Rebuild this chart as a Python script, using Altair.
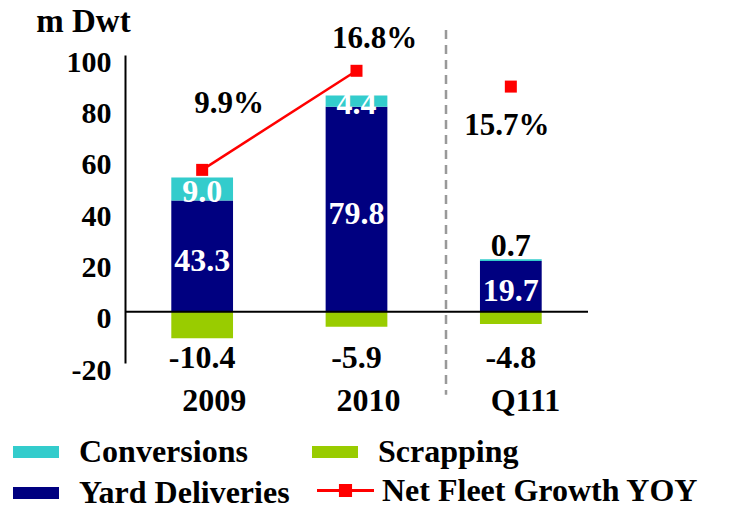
import altair as alt
import pandas as pd

# ---------------- data ----------------
categories = ["2009", "2010", "Q111"]
yard_deliveries = [43.3, 79.8, 19.7]
conversions = [9.0, 4.4, 0.7]
scrapping = [-10.4, -5.9, -4.8]
net_fleet_growth = [9.9, 16.8, 15.7]   # percent
# legend fills column by column: col 1 = Conversions, Yard Deliveries; col 2 = Scrapping
series_names = ["Conversions", "Yard Deliveries", "Scrapping"]
series_colors = ["#33CCCC", "#000080", "#99CC00"]
line_name = "Net Fleet Growth YOY"
y_ticks = [-20, 0, 20, 40, 60, 80, 100]

FONT = "'Liberation Serif', 'DejaVu Serif', serif"

wide = pd.DataFrame({
    "cat": categories,
    "yard": yard_deliveries,
    "conv": conversions,
    "scrap": scrapping,
    "growth": net_fleet_growth,
})
long = pd.DataFrame({
    "cat": categories * 3,
    "series": ["Yard Deliveries"] * 3 + ["Conversions"] * 3 + ["Scrapping"] * 3,
    "value": yard_deliveries + conversions + scrapping,
    "order": [0] * 3 + [1] * 3 + [2] * 3,
})
sep = pd.DataFrame({"cat": [categories[1]]})

# ---------------- scales / axes ----------------
yscale = alt.Scale(domain=[-20, 100], nice=False, zero=False)
pscale = alt.Scale(domain=[-3.55, 17.9], nice=False, zero=False)

yaxis = alt.Axis(
    values=y_ticks, grid=False, ticks=False, domain=True, domainColor="black",
    domainWidth=2, labelFont=FONT, labelFontSize=30, labelFontWeight="bold",
    labelColor="black", labelPadding=14, labelBaseline="middle", labelOffset=7,
    labelExpr="'' + datum.value",
    title="m Dwt", titleAngle=0, titleFont=FONT, titleFontSize=33,
    titleFontWeight="bold", titleColor="black", titleAlign="center",
    titleBaseline="alphabetic", titleX=-42, titleY=-24,
)
xaxis = alt.Axis(
    domain=False, ticks=False, grid=False, labelFont=FONT, labelFontSize=32,
    labelFontWeight="bold", labelColor="black", labelPadding=22, labelAngle=0,
    labelAlign="left", labelOffset=-20, title=None,
)
xscale = alt.Scale(paddingInner=0.6, paddingOuter=0.3)


def xenc(**kw):
    return alt.X("cat:N", sort=categories, scale=xscale, axis=xaxis, **kw)


def yenc(field):
    return alt.Y(field, scale=yscale, axis=yaxis)


rect_path = "M-1,-0.26L1,-0.26L1,0.26L-1,0.26Z"
line_path = ("M-1,-0.055L-0.23,-0.055L-0.23,-0.23L0.23,-0.23L0.23,-0.055L1,-0.055"
             "L1,0.055L0.23,0.055L0.23,0.23L-0.23,0.23L-0.23,0.055L-1,0.055Z")

legend_text = dict(labelFont=FONT, labelFontSize=32, labelFontWeight="bold",
                   labelColor="black", labelLimit=500, title=None)

# ---------------- left (m Dwt) layers ----------------
bars = alt.Chart(long).mark_bar().encode(
    x=xenc(),
    y=alt.Y("value:Q", stack="zero", scale=yscale, axis=yaxis),
    color=alt.Color(
        "series:N",
        scale=alt.Scale(domain=series_names, range=series_colors),
        legend=alt.Legend(
            orient="none", legendX=-112, legendY=374, columns=2,
            columnPadding=22, rowPadding=2, symbolType=rect_path,
            symbolSize=2116, symbolStrokeWidth=0, labelOffset=20,
            **legend_text,
        ),
    ),
    order=alt.Order("order:Q"),
)

zero_rule = alt.Chart(sep).mark_rule(color="black", strokeWidth=2).encode(
    y=alt.Y("z:Q", scale=yscale, axis=yaxis)
).transform_calculate(z="0")

# dashed separator between the annual bars and the quarter
sep_rule = alt.Chart(sep).mark_rule(
    color="#999999", strokeWidth=2.5, strokeDash=[9, 6]
).encode(
    x=alt.value(321),
    y=yenc("top:Q"),
    y2="bot:Q",
).transform_calculate(top="109.7", bot="-32.4")

txt = dict(font=FONT, fontWeight="bold", fontSize=32, baseline="middle")
fmt = "replace(format({}, '.1f'), '\u2212', '-')"

yard_lbl = alt.Chart(wide).transform_calculate(
    ypos="datum.yard / 2", lbl=fmt.format("datum.yard")
).mark_text(color="white", dy=5, **txt).encode(
    x=xenc(), y=yenc("ypos:Q"), text="lbl:N"
)

conv_lbl = alt.Chart(wide).transform_filter(
    alt.FieldOneOfPredicate(field="cat", oneOf=categories[:2])
).transform_calculate(
    ypos="datum.yard + datum.conv / 2", lbl=fmt.format("datum.conv")
).mark_text(color="white", dy=3, **txt).encode(
    x=xenc(), y=yenc("ypos:Q"), text="lbl:N"
)

conv_small_lbl = alt.Chart(wide).transform_filter(
    alt.FieldEqualPredicate(field="cat", equal=categories[2])
).transform_calculate(
    ypos="datum.yard + datum.conv", lbl=fmt.format("datum.conv")
).mark_text(
    color="black", font=FONT, fontWeight="bold", fontSize=32,
    baseline="alphabetic", dy=-3,
).encode(x=xenc(), y=yenc("ypos:Q"), text="lbl:N")

scrap_lbl = alt.Chart(wide).transform_calculate(
    ypos="-18", lbl=fmt.format("datum.scrap")
).mark_text(color="black", **txt).encode(
    x=xenc(), y=yenc("ypos:Q"), text="lbl:N"
)

left = alt.layer(bars, zero_rule, sep_rule, yard_lbl, conv_lbl, conv_small_lbl, scrap_lbl)

# ---------------- right (percent) layers ----------------
pY = alt.Y("growth:Q", scale=pscale, axis=None)

line = alt.Chart(wide).transform_filter(
    alt.FieldOneOfPredicate(field="cat", oneOf=categories[:2])
).mark_line(color="#FF0000", strokeWidth=2.5).encode(x=xenc(), y=pY)

points = alt.Chart(wide).transform_calculate(s=f"'{line_name}'").mark_point(
    shape="square", filled=True, size=144, opacity=1
).encode(
    x=xenc(), y=pY,
    fill=alt.Fill(
        "s:N",
        scale=alt.Scale(domain=[line_name], range=["#FF0000"]),
        legend=alt.Legend(
            orient="none", legendX=192, legendY=407, symbolType=line_path,
            symbolSize=3249, symbolStrokeWidth=0, labelOffset=8,
            **legend_text,
        ),
    ),
)

offsets = {categories[0]: (27, -66), categories[1]: (18, -32), categories[2]: (-4, 39)}
pct_layers = []
for c, (dx, dy) in offsets.items():
    pct_layers.append(
        alt.Chart(wide).transform_filter(
            alt.FieldEqualPredicate(field="cat", equal=c)
        ).transform_calculate(lbl="format(datum.growth, '.1f') + '%'").mark_text(
            color="black", font=FONT, fontWeight="bold", fontSize=31,
            baseline="middle", dx=dx, dy=dy,
        ).encode(x=xenc(), y=pY, text="lbl:N")
    )

right = alt.layer(line, points, *pct_layers)

chart = alt.layer(left, right).resolve_scale(y="independent").properties(
    width=463, height=308,
    autosize=alt.AutoSizeParams(type="none"),
    padding={"left": 117, "top": 47, "right": 133, "bottom": 160},
).configure_view(strokeWidth=0)

chart.save("out.html", embed_options={"renderer": "svg", "actions": False})
